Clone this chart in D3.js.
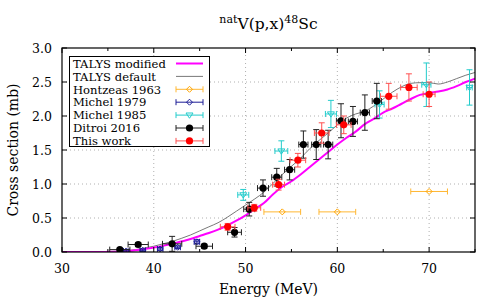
<!DOCTYPE html>
<html>
<head>
<meta charset="utf-8">
<script src="https://cdn.jsdelivr.net/npm/d3@7"></script>
<style>
  body { margin: 0; background: #fff; }
  text { font-family: "DejaVu Serif", serif; }
</style>
</head>
<body>
<div id="chart"></div>
<script>
// TALYS curves (energy MeV, cross section mb)
const talysModE = [30, 34, 35, 36, 37, 38, 39, 40, 41, 42, 43, 44, 45, 46, 47, 48, 49, 50, 51, 52, 53, 54, 55, 56, 57, 58, 59, 60, 61, 62, 63, 64, 65, 66, 67, 68, 69, 70, 71, 72, 73, 74, 75];
const talysModS = [0, 0, 0.002, 0.005, 0.012, 0.025, 0.045, 0.065, 0.09, 0.12, 0.155, 0.19, 0.235, 0.28, 0.33, 0.39, 0.46, 0.54, 0.63, 0.72, 0.85, 0.96, 1.04, 1.14, 1.25, 1.36, 1.47, 1.58, 1.68, 1.77, 1.88, 1.96, 2.05, 2.11, 2.18, 2.25, 2.31, 2.34, 2.36, 2.39, 2.44, 2.5, 2.55];
const talysDefE = [30, 34, 35, 36, 37, 38, 39, 40, 41, 42, 43, 44, 45, 46, 47, 48, 49, 50, 51, 52, 53, 54, 55, 56, 57, 58, 59, 60, 61, 62, 63, 64, 65, 66, 67, 68, 69, 70, 71, 72, 73, 74, 75];
const talysDefS = [0, 0, 0.005, 0.01, 0.02, 0.035, 0.06, 0.085, 0.12, 0.155, 0.2, 0.25, 0.31, 0.37, 0.43, 0.51, 0.6, 0.69, 0.78, 0.88, 1.01, 1.14, 1.26, 1.38, 1.52, 1.64, 1.75, 1.87, 1.97, 2.03, 2.07, 2.15, 2.25, 2.35, 2.43, 2.48, 2.49, 2.49, 2.47, 2.5, 2.55, 2.6, 2.64];

// experimental data: energy, energy error, cross section, cross section error
const hontzeasE = [54.0, 60.0, 70.0];
const hontzeasDE = [2.0, 2.0, 2.0];
const hontzeasS = [0.59, 0.59, 0.89];
const hontzeasDS = [0.0, 0.0, 0.0];

const michel79E = [37.0, 38.8, 40.7, 42.6, 44.7];
const michel79DE = [0.3, 0.3, 0.3, 0.3, 0.3];
const michel79S = [0.015, 0.025, 0.045, 0.07, 0.15];
const michel79DS = [0.02, 0.02, 0.02, 0.02, 0.03];

const michel85E = [49.75, 53.9, 59.3, 64.6, 69.7, 74.4];
const michel85DE = [0.6, 0.7, 0.6, 0.5, 0.5, 0.3];
const michel85S = [0.84, 1.485, 2.03, 2.17, 2.46, 2.42];
const michel85DS = [0.08, 0.15, 0.2, 0.2, 0.32, 0.26];

const ditroiE = [36.3, 38.3, 42.0, 45.5, 48.8, 50.4, 51.9, 53.4, 54.8, 56.3, 57.7, 59.0, 60.4, 61.7, 63.0, 64.3];
const ditroiDE = [1.1, 1.1, 1.05, 0.9, 0.75, 0.6, 0.6, 0.55, 0.55, 0.5, 0.5, 0.5, 0.5, 0.5, 0.5, 0.5];
const ditroiS = [0.035, 0.11, 0.12, 0.085, 0.29, 0.63, 0.94, 1.1, 1.21, 1.58, 1.58, 1.58, 1.93, 1.92, 2.05, 2.22];
const ditroiDS = [0.02, 0.03, 0.11, 0.03, 0.07, 0.1, 0.12, 0.13, 0.15, 0.2, 0.22, 0.21, 0.25, 0.22, 0.26, 0.26];

const thisE = [48.05, 50.95, 53.6, 55.7, 58.3, 60.7, 65.6, 67.8, 70.0];
const thisDE = [0.8, 0.7, 0.65, 0.85, 0.8, 0.8, 0.9, 0.9, 0.65];
const thisS = [0.37, 0.65, 0.99, 1.35, 1.75, 1.87, 2.29, 2.42, 2.32];
const thisDS = [0.05, 0.05, 0.08, 0.1, 0.15, 0.13, 0.19, 0.2, 0.18];

const xTicks = [30, 40, 50, 60, 70];
const xMinorTicks = [35, 45, 55, 65, 75];
const yTicks = [0, 0.5, 1.0, 1.5, 2.0, 2.5, 3.0];

const width = 500, height = 300;
const margin = { top: 48, right: 25, bottom: 48, left: 62 };
const pw = width - margin.left - margin.right;
const ph = height - margin.top - margin.bottom;

const svg = d3.select('#chart').append('svg')
    .attr('width', width)
    .attr('height', height);

const x = d3.scaleLinear().domain([30, 75]).range([margin.left, margin.left + pw]);
const y = d3.scaleLinear().domain([0, 3]).range([margin.top + ph, margin.top]);

// grid
const grid = svg.append('g').attr('stroke', '#b0b0b0').attr('stroke-width', 1).attr('stroke-dasharray', '1,3');
xTicks.slice(1).forEach(v => {
    grid.append('line').attr('x1', x(v)).attr('x2', x(v)).attr('y1', y(0)).attr('y2', y(3));
});
yTicks.slice(1, -1).forEach(v => {
    grid.append('line').attr('x1', x(30)).attr('x2', x(75)).attr('y1', y(v)).attr('y2', y(v));
});

svg.append('clipPath').attr('id', 'clip').append('rect')
    .attr('x', margin.left).attr('y', margin.top).attr('width', pw).attr('height', ph);

const plot = svg.append('g').attr('clip-path', 'url(#clip)');

// curves
const line = d3.line().x(d => x(d[0])).y(d => y(d[1])).curve(d3.curveMonotoneX);
plot.append('path')
    .datum(talysDefE.map((e, i) => [e, talysDefS[i]]))
    .attr('d', line).attr('fill', 'none').attr('stroke', '#555').attr('stroke-width', 0.8);
plot.append('path')
    .datum(talysModE.map((e, i) => [e, talysModS[i]]))
    .attr('d', line).attr('fill', 'none').attr('stroke', '#ff00ff').attr('stroke-width', 2);

// marker helpers
function drawMarker(g, shape, cx, cy, color) {
    if (shape === 'circle') {
        g.append('circle').attr('cx', cx).attr('cy', cy).attr('r', 3.6).attr('fill', color);
    } else if (shape === 'diamond') {
        const r = 3;
        g.append('path').attr('d', `M${cx},${cy - r}L${cx + r},${cy}L${cx},${cy + r}L${cx - r},${cy}Z`)
            .attr('fill', 'none').attr('stroke', color).attr('stroke-width', 1);
    } else if (shape === 'tri') {
        const r = 3.5;
        g.append('path').attr('d', `M${cx - r},${cy - r * 0.6}L${cx + r},${cy - r * 0.6}L${cx},${cy + r * 0.9}Z`)
            .attr('fill', 'none').attr('stroke', color).attr('stroke-width', 1);
    }
}

function drawSeries(E, DE, S, DS, color, barColor, shape) {
    const g = plot.append('g');
    const cap = 3;
    E.forEach((e, i) => {
        const cx = x(e), cy = y(S[i]);
        const bar = g.append('g').attr('stroke', barColor).attr('stroke-width', 1);
        const x0 = x(e - DE[i]), x1 = x(e + DE[i]);
        bar.append('line').attr('x1', x0).attr('x2', x1).attr('y1', cy).attr('y2', cy);
        bar.append('line').attr('x1', x0).attr('x2', x0).attr('y1', cy - cap).attr('y2', cy + cap);
        bar.append('line').attr('x1', x1).attr('x2', x1).attr('y1', cy - cap).attr('y2', cy + cap);
        if (DS[i] > 0) {
            const y0 = y(S[i] - DS[i]), y1 = y(S[i] + DS[i]);
            bar.append('line').attr('x1', cx).attr('x2', cx).attr('y1', y0).attr('y2', y1);
            bar.append('line').attr('x1', cx - cap).attr('x2', cx + cap).attr('y1', y0).attr('y2', y0);
            bar.append('line').attr('x1', cx - cap).attr('x2', cx + cap).attr('y1', y1).attr('y2', y1);
        }
        drawMarker(g, shape, cx, cy, color);
    });
}

drawSeries(hontzeasE, hontzeasDE, hontzeasS, hontzeasDS, '#ffa500', '#ffb733', 'diamond');
drawSeries(michel79E, michel79DE, michel79S, michel79DS, '#1c1c96', '#1c1c96', 'diamond');
drawSeries(michel85E, michel85DE, michel85S, michel85DS, '#22cccc', '#22cccc', 'tri');
drawSeries(ditroiE, ditroiDE, ditroiS, ditroiDS, '#000000', '#222222', 'circle');
drawSeries(thisE, thisDE, thisS, thisDS, '#ff0000', '#ff5050', 'circle');

// frame and ticks
const axes = svg.append('g').attr('stroke', '#000').attr('stroke-width', 1);
xTicks.forEach(v => {
    axes.append('line').attr('x1', x(v)).attr('x2', x(v)).attr('y1', y(0)).attr('y2', y(0) - 5);
    axes.append('line').attr('x1', x(v)).attr('x2', x(v)).attr('y1', y(3)).attr('y2', y(3) + 5);
});
xMinorTicks.forEach(v => {
    axes.append('line').attr('x1', x(v)).attr('x2', x(v)).attr('y1', y(0)).attr('y2', y(0) - 3);
    axes.append('line').attr('x1', x(v)).attr('x2', x(v)).attr('y1', y(3)).attr('y2', y(3) + 3);
});
yTicks.forEach(v => {
    axes.append('line').attr('x1', x(30)).attr('x2', x(30) + 5).attr('y1', y(v)).attr('y2', y(v));
    axes.append('line').attr('x1', x(75)).attr('x2', x(75) - 5).attr('y1', y(v)).attr('y2', y(v));
});
svg.append('rect')
    .attr('x', margin.left).attr('y', margin.top).attr('width', pw).attr('height', ph)
    .attr('fill', 'none').attr('stroke', '#000').attr('stroke-width', 1.2);

// tick labels
svg.append('g').selectAll('text').data(xTicks).enter().append('text')
    .attr('x', d => x(d)).attr('y', 273)
    .attr('text-anchor', 'middle').style('font-size', '12.5px')
    .text(d => d);
svg.append('g').selectAll('text').data(yTicks).enter().append('text')
    .attr('x', 52).attr('y', d => y(d) + 4.5)
    .attr('text-anchor', 'end').style('font-size', '12.5px')
    .text(d => d.toFixed(1));

// axis titles
svg.append('text')
    .attr('x', margin.left + pw / 2).attr('y', 294)
    .attr('text-anchor', 'middle').style('font-size', '14px')
    .text('Energy (MeV)');
svg.append('text')
    .attr('transform', `translate(18,${margin.top + ph / 2}) rotate(-90)`)
    .attr('text-anchor', 'middle').style('font-size', '14px')
    .text('Cross section (mb)');

// title
const title = svg.append('text')
    .attr('x', margin.left + pw / 2).attr('y', 29)
    .attr('text-anchor', 'middle').style('font-size', '15.5px');
title.append('tspan').attr('dy', '-6').style('font-size', '11px').text('nat');
title.append('tspan').attr('dy', '6').text('V(p,x)');
title.append('tspan').attr('dy', '-6').style('font-size', '11px').text('48');
title.append('tspan').attr('dy', '6').text('Sc');

// legend
const legendItems = [
    { name: 'TALYS modified', type: 'line', color: '#ff00ff', w: 2 },
    { name: 'TALYS default', type: 'line', color: '#555', w: 0.8 },
    { name: 'Hontzeas 1963', type: 'point', color: '#ffa500', bar: '#ffb733', shape: 'diamond' },
    { name: 'Michel 1979', type: 'point', color: '#1c1c96', bar: '#1c1c96', shape: 'diamond' },
    { name: 'Michel 1985', type: 'point', color: '#22cccc', bar: '#22cccc', shape: 'tri' },
    { name: 'Ditroi 2016', type: 'point', color: '#000000', bar: '#222222', shape: 'circle' },
    { name: 'This work', type: 'point', color: '#ff0000', bar: '#ff5050', shape: 'circle' }
];
const lg = svg.append('g');
lg.append('rect').attr('x', 69.5).attr('y', 56.5).attr('width', 140).attr('height', 90)
    .attr('fill', '#fff').attr('stroke', '#000').attr('stroke-width', 1);
legendItems.forEach((d, i) => {
    const cy = 63.5 + i * 12.9;
    lg.append('text').attr('x', 73).attr('y', cy + 4.2).style('font-size', '11.6px').text(d.name);
    if (d.type === 'line') {
        lg.append('line').attr('x1', 176).attr('x2', 203).attr('y1', cy).attr('y2', cy)
            .attr('stroke', d.color).attr('stroke-width', d.w);
    } else {
        const b = lg.append('g').attr('stroke', d.bar).attr('stroke-width', 1);
        b.append('line').attr('x1', 176).attr('x2', 203).attr('y1', cy).attr('y2', cy);
        b.append('line').attr('x1', 176).attr('x2', 176).attr('y1', cy - 3).attr('y2', cy + 3);
        b.append('line').attr('x1', 203).attr('x2', 203).attr('y1', cy - 3).attr('y2', cy + 3);
        drawMarker(lg, d.shape, 189.5, cy, d.color);
    }
});
</script>
</body>
</html>
